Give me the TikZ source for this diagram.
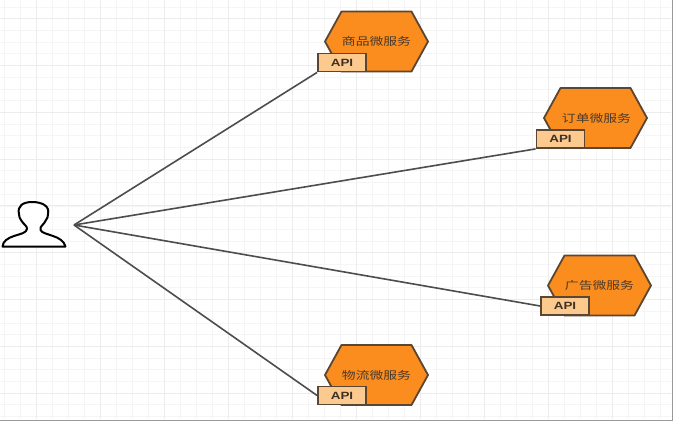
\documentclass[tikz,border=0pt]{standalone}
\usepackage{fontspec}
\setmainfont{Noto Sans CJK SC}
\setsansfont{Liberation Sans}
\definecolor{hexfill}{HTML}{FB8C1E}
\definecolor{hexline}{HTML}{5A4632}
\definecolor{apifill}{HTML}{FCC98F}
\definecolor{linkc}{HTML}{4D4D4D}
\definecolor{gridminor}{HTML}{F5F5F5}
\definecolor{gridmajor}{HTML}{ECECEC}
\tikzset{
  x=1pt,y=-1pt,
  hexshape/.style={draw=hexline,fill=hexfill,line width=1.8pt,line join=round},
  hextext/.style={inner sep=0pt,font=\fontsize{10.8}{12}\selectfont,text=hexline!85!black},
  apibox/.style={draw=hexline,fill=apifill,line width=1.8pt,minimum width=48pt,minimum height=18pt,inner sep=0pt,font=\sffamily\bfseries\fontsize{10.5}{12}\selectfont,text=hexline!70!black},
  link/.style={draw=linkc,line width=1.6pt},
}
\newcommand{\hexserv}[6]{% name, cx, cy, text, text x, text y
  \draw[hexshape] (#2-51.5,#3) -- (#2-35,#3-30) -- (#2+35,#3-30) -- (#2+51.5,#3) -- (#2+35,#3+30) -- (#2-35,#3+30) -- cycle;
  \node[hextext] (#1) at (#5,#6) {\scalebox{1.28}[1]{#4}};
}
\begin{document}
\begin{tikzpicture}
\useasboundingbox (0,0) rectangle (673,421);
\fill[white] (0,0) rectangle (673,421);
\foreach \k in {0,...,41} \draw[gridminor,line width=.8pt] ({4+16*\k},0) -- ({4+16*\k},419);
\foreach \k in {0,...,35} \draw[gridminor,line width=.8pt] (0,{7+11.7*\k}) -- (671,{7+11.7*\k});
\foreach \k in {0,...,10} \draw[gridmajor,line width=.9pt] ({36+64*\k},0) -- ({36+64*\k},419);
\foreach \k in {0,...,8} \draw[gridmajor,line width=.9pt] (0,{18.6+46.8*\k}) -- (671,{18.6+46.8*\k});
\fill[gray!80] (671.5,0) rectangle (673,421);
\fill[gray!80] (0,419.5) rectangle (673,421);

\coordinate (user) at (74,225);
\hexserv{s1}{376.5}{41.5}{商品微服务}{376.5}{41.5}
\hexserv{s2}{595.5}{118}{订单微服务}{596.5}{118}
\hexserv{s3}{599.5}{285.5}{广告微服务}{599.5}{285.5}
\hexserv{s4}{376.5}{375}{物流微服务}{376.5}{375}
\node[apibox] (a1) at (342,62.5) {\scalebox{1.28}[1]{API}};
\node[apibox] (a2) at (560.5,139) {\scalebox{1.28}[1]{API}};
\node[apibox] (a3) at (565,306) {\scalebox{1.28}[1]{API}};
\node[apibox] (a4) at (342,395.5) {\scalebox{1.28}[1]{API}};
\draw[link] (user) -- (a1.south west);
\draw[link] (user) -- (a2.south west);
\draw[link] (user) -- (a3.west);
\draw[link] (user) -- (a4.west);

% person
\draw[black,line width=2pt,line join=round,fill=white]
 (2.5,246.5) .. controls (3,241) and (8,238) .. (14,236)
 .. controls (20,234) and (26.5,233) .. (27,229)
 .. controls (27.5,226) and (23,224) .. (21,220)
 .. controls (20.5,218) and (18.5,217.5) .. (19,214)
 .. controls (17,206) and (23,202) .. (32,202)
 .. controls (42,202) and (50,206) .. (48,214)
 .. controls (48.5,217) and (47,218) .. (46,220)
 .. controls (44,225) and (39.5,226) .. (40.5,230)
 .. controls (41.5,233) and (48,234) .. (53,236)
 .. controls (59,238) and (64,241) .. (65.5,246.5)
 -- cycle;
\end{tikzpicture}
\end{document}
